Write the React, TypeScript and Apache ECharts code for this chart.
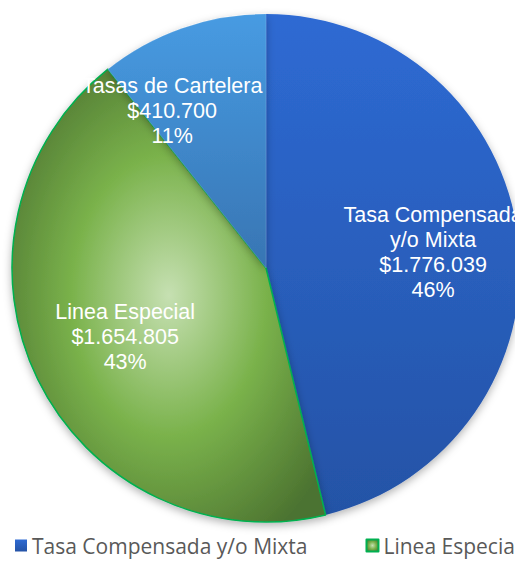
import React, { useEffect, useRef } from "react";
import * as echarts from "echarts";

const categories = ["Tasa Compensada y/o Mixta", "Linea Especial", "Tasas de Cartelera"];
const labelNames = ["Tasa Compensada\ny/o Mixta", "Linea Especial", "Tasas de Cartelera"];
const values = [1776039, 1654805, 410700];
const labelOffsets = [[38, 0], [-24, 12], [-51, -34]];

const fmt = (v: number) => "$" + v.toLocaleString("de-DE");

export default function App() {
  const ref = useRef<HTMLDivElement>(null);
  useEffect(() => {
    if (!ref.current) return;
    const chart = echarts.init(ref.current, undefined, { renderer: "svg" });
    const styles = [
      {
        color: new echarts.graphic.LinearGradient(0, 0, 0, 1, [
          { offset: 0, color: "#2E6AD3" },
          { offset: 1, color: "#2453A6" },
        ]),
        borderWidth: 0,
      },
      {
        color: new echarts.graphic.RadialGradient(0.5, 0.5, 0.62, [
          { offset: 0, color: "#C6E0B2" },
          { offset: 0.5, color: "#7AB24B" },
          { offset: 1, color: "#4C7330" },
        ]),
        borderColor: "#00B050",
        borderWidth: 1.5,
      },
      {
        color: new echarts.graphic.LinearGradient(0, 0, 0, 1, [
          { offset: 0, color: "#479BE2" },
          { offset: 1, color: "#3875B3" },
        ]),
        borderColor: "rgba(255,255,255,0.25)",
        borderWidth: 0.5,
      },
    ];
    const total = values.reduce((a, b) => a + b, 0);
    chart.setOption({
      animation: false,
      legend: {
        left: 10,
        bottom: 0,
        width: 1200,
        icon: "rect",
        itemWidth: 12,
        itemHeight: 12,
        itemGap: 58,
        textStyle: { color: "#595959", fontSize: 21, fontFamily: "Open Sans" },
        data: categories,
      },
      series: [
        {
          type: "pie",
          center: [266, 268],
          radius: [0, 254],
          startAngle: 90,
          clockwise: true,
          avoidLabelOverlap: false,
          itemStyle: {
            shadowBlur: 8,
            shadowOffsetY: 3,
            shadowColor: "rgba(0,0,0,0.3)",
          },
          label: {
            show: true,
            position: "inside",
            color: "#ffffff",
            fontSize: 21.5,
            lineHeight: 25,
            fontFamily: "Liberation Sans",
            align: "center",
            formatter: (p: any) =>
              labelNames[p.dataIndex] + "\n" + fmt(p.value) + "\n" + Math.round((p.value / total) * 100) + "%",
          },
          labelLine: { show: false },
          emphasis: { disabled: true },
          data: categories.map((name, i) => ({
            name,
            value: values[i],
            itemStyle: styles[i],
            label: { offset: labelOffsets[i] },
          })),
        },
      ],
    });
    return () => chart.dispose();
  }, []);
  return (
    <div
      ref={ref}
      style={{ position: "absolute", left: 0, top: 0, width: 515, height: 561, background: "#fff" }}
    />
  );
}
